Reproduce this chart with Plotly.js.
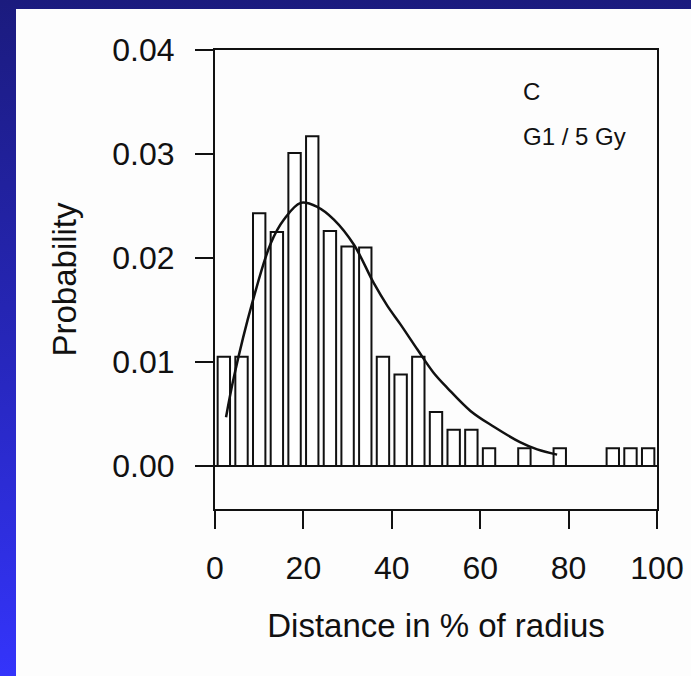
<!DOCTYPE html>
<html>
<head>
<meta charset="utf-8">
<script src="https://cdn.plot.ly/plotly-3.0.1.min.js"></script>
<style>
  html, body { margin: 0; padding: 0; width: 691px; height: 676px; overflow: hidden;
    background: linear-gradient(to bottom, #1b1b7e 0%, #2626b8 50%, #3434fb 100%); }
  #chart { position: absolute; left: 16px; top: 9px; width: 675px; height: 667px; background: #fdfdfd; }
</style>
</head>
<body>
<div id="chart"></div>
<script>
// Histogram bins (centre of each 4 % wide bin)
const binCenters = [2, 6, 10, 14, 18, 22, 26, 30, 34, 38, 42, 46, 50, 54, 58, 62, 66, 70, 74, 78, 82, 86, 90, 94, 98];
const probabilities = [0.0105, 0.0105, 0.0243, 0.0225, 0.0301, 0.0317, 0.0226, 0.0211, 0.0210, 0.0105, 0.0088, 0.0105, 0.0052,
                       0.0035, 0.0035, 0.0017, 0, 0.0017, 0, 0.0017, 0, 0, 0.0017, 0.0017, 0.0017];
// Fitted curve
const fitX = [2.5, 4.3, 8.5, 12.6, 15.6, 19.4, 23.2, 26.9, 31.4, 35.9, 39, 42, 45.8, 49.4, 52.6, 57.8, 63, 69, 72.9, 77.4];
const fitY = [0.0047, 0.0086, 0.0158, 0.0214, 0.0237, 0.0253, 0.0249, 0.0237, 0.0213, 0.0176, 0.0154, 0.0136, 0.0112, 0.0090,
              0.0075, 0.0053, 0.0038, 0.0023, 0.0016, 0.0011];
const xTicks = [0, 20, 40, 60, 80, 100];
const yTicks = [0, 0.01, 0.02, 0.03, 0.04];
const panelLabel = "C";
const conditionLabel = "G1 / 5 Gy";

const FONT = "Liberation Sans, Arial, Helvetica, sans-serif";

const traces = [
  {
    type: "bar",
    x: binCenters,
    y: probabilities,
    width: 2.8,
    marker: { color: "#ffffff", line: { color: "#111111", width: 2 } },
    hoverinfo: "x+y"
  },
  {
    type: "scatter",
    mode: "lines",
    x: fitX,
    y: fitY,
    line: { color: "#111111", width: 2.5, shape: "spline", smoothing: 1 },
    hoverinfo: "x+y"
  }
];

const layout = {
  width: 675,
  height: 667,
  margin: { l: 199, r: 34, t: 41, b: 167, pad: 0 },
  paper_bgcolor: "#fdfdfd",
  plot_bgcolor: "#fdfdfd",
  showlegend: false,
  font: { family: FONT, color: "#111111", size: 32 },
  xaxis: {
    range: [0, 100],
    tickvals: xTicks,
    ticktext: xTicks.map(String),
    ticks: "outside",
    ticklen: 18,
    tickwidth: 2,
    tickcolor: "#111111",
    showline: true,
    linecolor: "#111111",
    linewidth: 2,
    mirror: true,
    showgrid: false,
    zeroline: false,
    ticklabelstandoff: 12,
    tickfont: { family: FONT, size: 32, color: "#111111" },
    title: { text: "Distance in % of radius", font: { family: FONT, size: 33, color: "#111111" }, standoff: 28 }
  },
  yaxis: {
    range: [-0.00413, 0.04],
    tickvals: yTicks,
    ticktext: yTicks.map(v => v.toFixed(2)),
    ticks: "outside",
    ticklen: 18,
    tickwidth: 2,
    tickcolor: "#111111",
    showline: true,
    linecolor: "#111111",
    linewidth: 2,
    mirror: true,
    showgrid: false,
    zeroline: true,
    zerolinecolor: "#111111",
    zerolinewidth: 2,
    ticklabelstandoff: 14,
    tickfont: { family: FONT, size: 32, color: "#111111" },
    title: { text: "Probability", font: { family: FONT, size: 33, color: "#111111" }, standoff: 26 }
  },
  annotations: [
    { xref: "x", yref: "y", x: 69.2, y: 0.0360, text: panelLabel, showarrow: false, xanchor: "left",
      yanchor: "middle", font: { family: FONT, size: 24, color: "#111111" } },
    { xref: "x", yref: "y", x: 69.2, y: 0.0317, text: conditionLabel, showarrow: false, xanchor: "left",
      yanchor: "middle", font: { family: FONT, size: 24, color: "#111111" } }
  ]
};

Plotly.newPlot("chart", traces, layout, { staticPlot: true, displayModeBar: false });
</script>
</body>
</html>
